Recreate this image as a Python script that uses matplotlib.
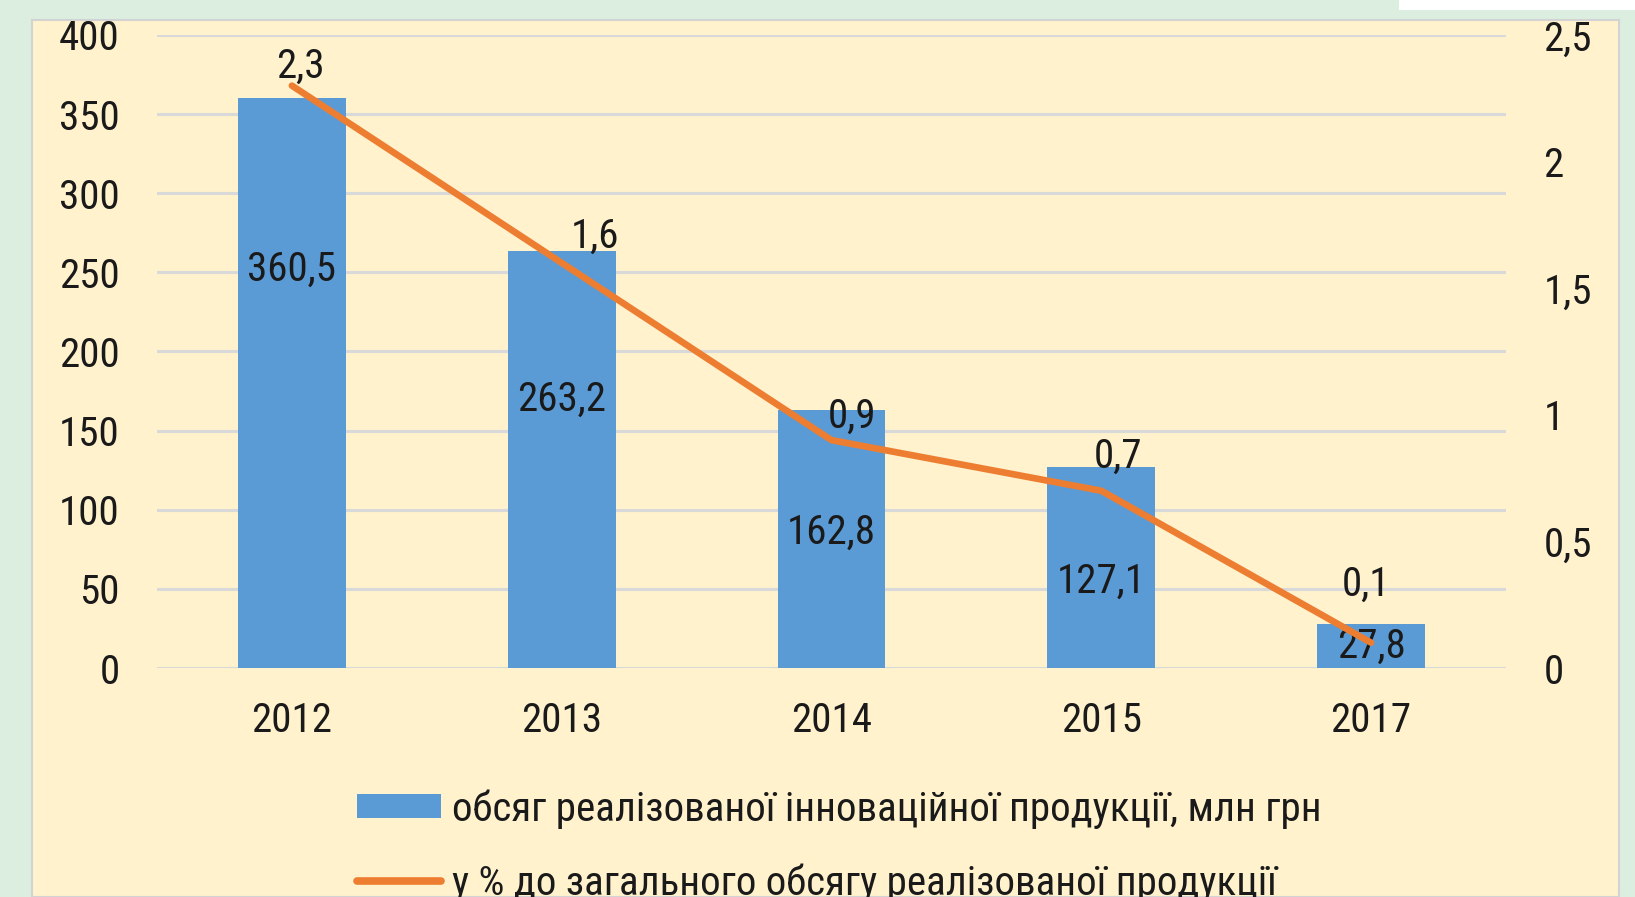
import matplotlib.pyplot as plt
from matplotlib.patches import Rectangle
from matplotlib.lines import Line2D
from matplotlib.patches import Patch

plt.rcParams['font.family'] = ['Roboto Condensed', 'DejaVu Sans']

years = ['2012', '2013', '2014', '2015', '2017']
volume = [360.5, 263.2, 162.8, 127.1, 27.8]
share = [2.3, 1.6, 0.9, 0.7, 0.1]

bar_name = 'обсяг реалізованої інноваційної продукції, млн грн'
line_name = 'у % до загального обсягу реалізованої продукції'

# where the labels sit (bar labels in bar units, line labels as offsets in pt)
bar_label_y = [252, 170, 86, 55, 14]
line_label_off = [(6, 14), (24, 19), (15, 17), (12, 25), (-4, 42)]

BLUE = '#5B9BD5'
ORANGE = '#ED7D31'
TXT = '#1a1a1a'
FS = 29.5


def fmt(v):
    s = f'{v:g}'
    return s.replace('.', ',')


fig = plt.figure(figsize=(16.35, 8.97), dpi=100)
fig.patch.set_facecolor('#DBEEDF')
fig.patches.append(Rectangle((32 / 1635, 0), 1587 / 1635, 1 - 20 / 897,
                             transform=fig.transFigure, facecolor='#FFF2CD',
                             edgecolor='#D3D3D3', linewidth=1.5, zorder=-10))
fig.patches.append(Rectangle((1399 / 1635, 1 - 10 / 897), 236 / 1635, 10 / 897,
                             transform=fig.transFigure, facecolor='white',
                             edgecolor='none', zorder=-9))

ax = fig.add_axes([157 / 1635, 1 - 668 / 897, 1349 / 1635, 633 / 897])
ax.set_facecolor('none')
x = list(range(len(years)))

ax.bar(x, volume, width=0.4, color=BLUE, zorder=2)
ax.set_ylim(0, 400)
ax.set_xlim(-0.5, len(years) - 0.5)
ax.set_yticks(range(0, 401, 50))
ax.set_xticks(x)
ax.set_xticklabels(years)
ax.grid(axis='y', color='#D9D9D9', linewidth=2.2, zorder=0)
ax.set_axisbelow(True)
for s in ax.spines.values():
    s.set_visible(False)
ax.tick_params(axis='both', length=0, labelsize=FS, colors=TXT)
ax.tick_params(axis='y', pad=27)
ax.tick_params(axis='x', pad=24)

for xi, v, ly in zip(x, volume, bar_label_y):
    ax.text(xi, ly, fmt(v), ha='center', va='center', fontsize=FS,
            color=TXT, zorder=5)

ax2 = ax.twinx()
ax2.plot(x, share, color=ORANGE, linewidth=4.8, solid_capstyle='round', zorder=3)
ax2.set_ylim(0, 2.5)
ax2.set_yticks([0, 0.5, 1, 1.5, 2, 2.5])
ax2.set_yticklabels([fmt(t) for t in [0, 0.5, 1, 1.5, 2, 2.5]])
for s in ax2.spines.values():
    s.set_visible(False)
ax2.tick_params(axis='y', length=0, labelsize=FS, colors=TXT, pad=27)

for xi, v, off in zip(x, share, line_label_off):
    ax2.annotate(fmt(v), (xi, v), xytext=off, textcoords='offset points',
                 ha='center', va='center', fontsize=FS, color=TXT, zorder=6)

handles = [Patch(facecolor=BLUE, edgecolor='none'),
           Line2D([], [], color=ORANGE, linewidth=5.5, solid_capstyle='round')]
fig.legend(handles, [bar_name, line_name], loc='upper left',
           bbox_to_anchor=(357 / 1635, 1 - 789 / 897), frameon=False,
           fontsize=FS, handlelength=2.05, handleheight=0.55,
           handletextpad=0.28, labelspacing=0.85, borderpad=0,
           borderaxespad=0, labelcolor=TXT)

fig.savefig('out.png', dpi=100, facecolor=fig.get_facecolor())
